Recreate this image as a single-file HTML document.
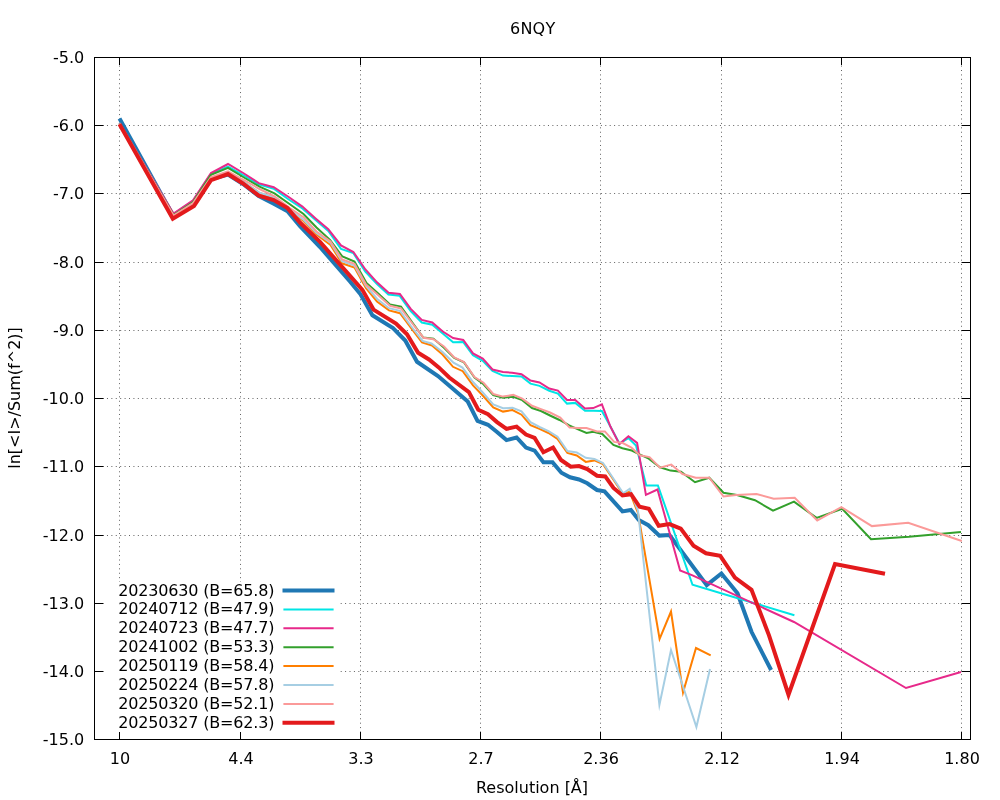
<!DOCTYPE html><html><head><meta charset="utf-8"><style>html,body{margin:0;padding:0;background:#fff;}svg{display:block}text{font-family:"DejaVu Sans","Liberation Sans",sans-serif;font-size:16px;fill:#000}</style></head><body>
<svg width="1000" height="800" viewBox="0 0 1000 800">
<rect width="1000" height="800" fill="#fff"/>
<g stroke="#000" stroke-width="1" stroke-dasharray="1 3.41" stroke-opacity="0.62"><line x1="94.5" stroke-dashoffset="0.77" y1="125.5" x2="970.5" y2="125.5"/><line x1="94.5" stroke-dashoffset="0.77" y1="193.5" x2="970.5" y2="193.5"/><line x1="94.5" stroke-dashoffset="0.77" y1="262.5" x2="970.5" y2="262.5"/><line x1="94.5" stroke-dashoffset="0.77" y1="330.5" x2="970.5" y2="330.5"/><line x1="94.5" stroke-dashoffset="0.77" y1="398.5" x2="970.5" y2="398.5"/><line x1="94.5" stroke-dashoffset="0.77" y1="466.5" x2="970.5" y2="466.5"/><line x1="94.5" stroke-dashoffset="0.77" y1="535.5" x2="970.5" y2="535.5"/><line x1="94.5" stroke-dashoffset="0.77" y1="603.5" x2="970.5" y2="603.5"/><line x1="94.5" stroke-dashoffset="0.77" y1="671.5" x2="970.5" y2="671.5"/><line x1="119.5" y1="57.5" stroke-dashoffset="0.73" x2="119.5" y2="739.5"/><line x1="240.5" y1="57.5" stroke-dashoffset="0.73" x2="240.5" y2="739.5"/><line x1="360.5" y1="57.5" stroke-dashoffset="0.73" x2="360.5" y2="739.5"/><line x1="480.5" y1="57.5" stroke-dashoffset="0.73" x2="480.5" y2="739.5"/><line x1="600.5" y1="57.5" stroke-dashoffset="0.73" x2="600.5" y2="739.5"/><line x1="721.5" y1="57.5" stroke-dashoffset="0.73" x2="721.5" y2="739.5"/><line x1="841.5" y1="57.5" stroke-dashoffset="0.73" x2="841.5" y2="739.5"/><line x1="961.5" y1="57.5" stroke-dashoffset="0.73" x2="961.5" y2="739.5"/></g>
<rect x="95" y="582" width="245" height="156" fill="#fff"/>
<path d="M94.5 125.5h9M970.5 125.5h-9M94.5 193.5h9M970.5 193.5h-9M94.5 262.5h9M970.5 262.5h-9M94.5 330.5h9M970.5 330.5h-9M94.5 398.5h9M970.5 398.5h-9M94.5 466.5h9M970.5 466.5h-9M94.5 535.5h9M970.5 535.5h-9M94.5 603.5h9M970.5 603.5h-9M94.5 671.5h9M970.5 671.5h-9M119.5 739.5v-7.5M119.5 57.5v7.5M240.5 739.5v-7.5M240.5 57.5v7.5M360.5 739.5v-7.5M360.5 57.5v7.5M480.5 739.5v-7.5M480.5 57.5v7.5M600.5 739.5v-7.5M600.5 57.5v7.5M721.5 739.5v-7.5M721.5 57.5v7.5M841.5 739.5v-7.5M841.5 57.5v7.5M961.5 739.5v-7.5M961.5 57.5v7.5" stroke="#000" stroke-width="1" fill="none"/>
<polyline points="119.50,118.50 173.50,216.50 193.50,205.00 211.00,179.00 228.00,174.50 243.00,184.00 258.75,196.00 273.75,203.75 287.50,211.25 300.00,226.25 320.00,247.00 350.00,281.50 360.50,294.30 372.40,315.25 393.00,328.00 405.25,340.50 417.00,361.75 438.00,376.00 448.50,385.00 467.75,401.50 477.50,421.00 488.00,424.75 497.00,432.00 506.50,440.10 516.60,437.50 526.00,447.60 534.60,450.60 543.40,462.20 552.50,462.20 561.40,472.75 570.00,477.25 579.00,479.50 587.25,483.25 597.00,490.00 604.50,491.40 613.50,501.30 622.50,511.40 630.90,510.00 638.75,520.00 648.30,525.20 659.40,535.60 669.50,535.00 706.75,585.10 721.40,573.50 737.50,593.30 751.50,631.80 771.10,670.00" fill="none" stroke="#1f78b4" stroke-width="4" stroke-linejoin="miter" stroke-miterlimit="10" stroke-linecap="butt"/>
<polyline points="119.50,123.00 173.50,214.00 193.00,201.00 211.00,173.80 228.00,166.60 244.00,175.50 258.75,184.40 273.75,188.75 288.70,199.50 302.40,208.50 315.60,220.00 328.30,231.00 341.00,248.90 353.30,253.00 365.30,271.75 377.00,284.10 388.40,294.60 399.70,295.80 410.70,311.10 421.75,322.50 432.25,324.75 442.75,333.40 453.10,342.30 463.25,342.10 473.00,355.25 482.75,360.90 492.50,371.00 503.00,375.60 512.10,376.00 521.50,376.50 530.50,383.60 539.50,385.90 549.25,390.75 557.90,393.60 567.00,403.60 575.25,402.90 585.00,410.75 593.25,410.75 601.90,411.10 610.40,426.50 619.40,443.50 628.40,438.10 636.00,445.50 646.25,485.40 657.90,485.40 692.50,584.75 794.40,615.20" fill="none" stroke="#00e5e5" stroke-width="2" stroke-linejoin="miter" stroke-miterlimit="10" stroke-linecap="butt"/>
<polyline points="119.50,123.00 173.50,213.50 193.00,200.25 211.00,173.00 228.00,164.00 244.00,173.50 258.75,183.10 273.75,187.20 288.70,197.00 302.40,206.60 315.60,218.40 328.30,229.30 341.00,245.40 353.40,252.00 365.40,269.50 377.00,282.30 388.60,292.80 399.90,293.90 410.75,308.90 421.75,319.90 432.25,322.50 442.75,331.50 453.10,338.00 463.25,339.90 473.00,353.40 482.75,358.60 492.50,369.50 503.00,372.00 512.10,372.75 521.50,374.25 530.50,380.60 539.50,382.50 549.25,388.50 557.90,390.60 567.00,399.90 575.25,399.90 585.00,408.50 593.25,408.10 601.90,404.40 610.40,426.50 619.40,444.10 628.40,436.25 637.10,442.90 645.90,494.90 657.50,489.50 680.10,570.50 692.50,575.40 794.00,622.00 906.00,688.00 961.00,672.00" fill="none" stroke="#e7298a" stroke-width="2" stroke-linejoin="miter" stroke-miterlimit="10" stroke-linecap="butt"/>
<polyline points="119.50,123.50 173.50,215.00 193.00,202.00 211.00,174.80 228.00,167.90 244.00,177.50 259.50,186.60 274.50,193.40 289.50,204.00 303.50,214.00 316.50,227.50 330.00,239.80 342.40,256.50 354.50,261.60 366.50,283.00 378.20,293.50 390.00,304.40 401.00,306.60 412.00,322.00 423.25,337.50 433.40,338.60 444.00,347.80 454.25,357.90 464.00,362.40 474.50,377.50 483.50,384.25 493.25,395.10 503.00,397.75 513.25,396.75 522.25,400.10 532.00,408.00 541.00,411.00 550.00,415.50 559.50,420.00 569.25,425.40 577.50,429.10 586.50,432.90 593.25,431.75 602.25,434.00 613.40,444.90 622.40,448.25 631.75,450.50 639.00,454.10 648.75,458.60 660.00,467.25 670.50,470.60 681.00,471.75 695.00,482.25 709.25,477.75 723.50,492.75 737.00,495.00 755.00,500.20 773.00,510.70 794.00,501.70 816.60,517.90 842.20,508.80 871.00,539.30 909.00,536.80 961.00,531.90" fill="none" stroke="#33a02c" stroke-width="2" stroke-linejoin="miter" stroke-miterlimit="10" stroke-linecap="butt"/>
<polyline points="119.50,124.00 173.50,216.00 193.00,204.00 211.00,178.00 228.00,172.50 244.00,182.00 259.50,193.00 274.50,198.00 289.50,210.50 303.50,221.00 316.50,234.50 330.50,245.00 342.00,263.30 354.50,267.60 366.00,288.30 377.00,301.50 389.00,310.40 400.00,313.20 411.00,328.00 422.00,342.40 432.00,345.50 442.50,354.50 453.00,366.80 462.75,371.20 473.00,385.40 482.75,395.50 493.25,407.50 503.00,411.60 512.50,410.00 521.50,414.70 530.50,425.10 539.50,428.90 548.50,433.00 557.50,439.00 567.40,452.90 576.75,455.50 585.75,461.90 594.40,460.40 603.00,464.10 613.00,479.00 623.00,494.00 629.60,491.75 638.00,513.00 659.60,639.00 671.00,611.50 683.00,692.50 696.00,648.00 710.70,655.40" fill="none" stroke="#ff7f00" stroke-width="2" stroke-linejoin="miter" stroke-miterlimit="10" stroke-linecap="butt"/>
<polyline points="119.50,124.00 173.50,216.00 193.00,204.00 211.00,178.00 228.00,172.50 244.00,182.00 259.50,192.80 274.50,197.50 289.50,209.50 303.50,219.80 316.50,233.00 330.50,242.70 342.00,261.10 354.50,265.60 366.00,286.00 377.00,298.70 389.00,308.20 400.00,310.90 411.00,326.00 422.50,340.90 431.50,343.50 442.50,352.00 453.50,362.75 462.50,367.60 473.00,382.00 482.75,392.50 493.25,404.50 503.00,408.30 512.50,407.75 521.50,411.30 530.50,422.10 539.50,427.00 548.50,431.10 557.50,436.75 567.40,451.00 576.75,452.50 585.75,457.75 594.40,458.90 603.00,463.00 613.00,478.00 623.25,493.25 629.70,488.75 638.00,511.00 659.40,705.00 671.00,650.00 696.40,727.00 710.00,669.00" fill="none" stroke="#a6cee3" stroke-width="2" stroke-linejoin="miter" stroke-miterlimit="10" stroke-linecap="butt"/>
<polyline points="119.50,123.50 173.50,215.50 193.00,203.00 211.00,177.20 228.00,171.40 244.00,180.00 259.50,189.00 274.50,196.25 289.50,207.80 303.50,217.20 316.50,231.50 330.50,241.40 342.00,259.40 354.50,263.80 366.00,284.50 378.00,295.00 390.00,305.80 401.00,308.50 412.00,323.00 423.50,337.70 433.40,339.20 444.00,346.50 454.25,357.50 464.00,362.00 474.50,377.00 483.50,382.75 493.25,394.00 503.00,396.60 513.25,394.90 522.25,398.60 532.00,405.75 541.00,409.10 550.00,412.50 560.25,417.50 569.60,427.60 578.00,428.00 586.50,428.00 597.00,431.40 604.90,431.40 614.10,441.90 622.75,443.00 631.40,447.50 639.75,455.25 649.50,457.10 660.00,467.60 671.25,464.60 682.50,474.00 695.75,477.75 709.25,477.75 723.50,496.50 736.20,495.00 756.50,494.00 773.70,498.70 794.70,497.70 817.20,520.50 841.35,507.10 871.90,526.10 908.20,522.80 961.80,541.00" fill="none" stroke="#fb9a99" stroke-width="2" stroke-linejoin="miter" stroke-miterlimit="10" stroke-linecap="butt"/>
<polyline points="119.50,124.20 172.80,218.75 194.00,206.00 211.00,180.20 228.00,174.00 243.00,183.50 258.75,195.60 273.75,200.00 287.50,208.10 300.00,222.50 320.00,241.90 350.00,275.90 362.40,289.80 373.50,309.60 396.00,323.50 407.00,334.30 418.10,352.75 429.00,359.50 438.75,367.40 449.25,377.50 468.90,392.10 478.25,409.75 488.00,414.25 497.00,422.10 506.50,428.90 516.60,426.60 526.00,434.50 534.60,437.90 543.40,452.20 553.10,447.50 561.00,460.00 570.75,466.75 579.00,466.00 587.25,469.00 597.00,475.75 605.25,476.40 613.50,488.00 622.50,495.50 631.00,494.20 639.60,506.80 648.80,508.70 658.70,525.80 669.50,524.10 680.75,528.60 693.50,545.80 706.00,553.25 720.25,555.90 734.90,577.50 751.50,589.80 769.00,635.30 788.50,694.70 835.00,564.00 885.00,573.80" fill="none" stroke="#e31a1c" stroke-width="4" stroke-linejoin="miter" stroke-miterlimit="10" stroke-linecap="butt"/>
<rect x="94.5" y="57.5" width="876" height="682" fill="none" stroke="#000" stroke-width="1"/>
<text x="84.2" y="63" text-anchor="end">-5.0</text>
<text x="84.2" y="131" text-anchor="end">-6.0</text>
<text x="84.2" y="199" text-anchor="end">-7.0</text>
<text x="84.2" y="268" text-anchor="end">-8.0</text>
<text x="84.2" y="336" text-anchor="end">-9.0</text>
<text x="84.2" y="404" text-anchor="end">-10.0</text>
<text x="84.2" y="472" text-anchor="end">-11.0</text>
<text x="84.2" y="541" text-anchor="end">-12.0</text>
<text x="84.2" y="609" text-anchor="end">-13.0</text>
<text x="84.2" y="677" text-anchor="end">-14.0</text>
<text x="84.2" y="745" text-anchor="end">-15.0</text>
<text x="120" y="764" text-anchor="middle">10</text>
<text x="241" y="764" text-anchor="middle">4.4</text>
<text x="361" y="764" text-anchor="middle">3.3</text>
<text x="481" y="764" text-anchor="middle">2.7</text>
<text x="601" y="764" text-anchor="middle">2.36</text>
<text x="722" y="764" text-anchor="middle">2.12</text>
<text x="842" y="764" text-anchor="middle">1.94</text>
<text x="962" y="764" text-anchor="middle">1.80</text>
<text x="532.6" y="34" text-anchor="middle" textLength="45.3" lengthAdjust="spacing">6NQY</text>
<text x="532" y="793" text-anchor="middle">Resolution [Å]</text>
<text transform="translate(20,398) rotate(-90)" text-anchor="middle">ln[&lt;I&gt;/Sum(f^2)]</text>
<text x="118.3" y="595.60" textLength="156.1" lengthAdjust="spacing">20230630 (B=65.8)</text>
<line x1="282.5" y1="590.60" x2="334.5" y2="590.60" stroke="#1f78b4" stroke-width="4"/>
<text x="118.3" y="614.48" textLength="156.1" lengthAdjust="spacing">20240712 (B=47.9)</text>
<line x1="283.4" y1="609.48" x2="333.6" y2="609.48" stroke="#00e5e5" stroke-width="2"/>
<text x="118.3" y="633.36" textLength="156.1" lengthAdjust="spacing">20240723 (B=47.7)</text>
<line x1="283.4" y1="628.36" x2="333.6" y2="628.36" stroke="#e7298a" stroke-width="2"/>
<text x="118.3" y="652.24" textLength="156.1" lengthAdjust="spacing">20241002 (B=53.3)</text>
<line x1="283.4" y1="647.24" x2="333.6" y2="647.24" stroke="#33a02c" stroke-width="2"/>
<text x="118.3" y="671.12" textLength="156.1" lengthAdjust="spacing">20250119 (B=58.4)</text>
<line x1="283.4" y1="666.12" x2="333.6" y2="666.12" stroke="#ff7f00" stroke-width="2"/>
<text x="118.3" y="690.00" textLength="156.1" lengthAdjust="spacing">20250224 (B=57.8)</text>
<line x1="283.4" y1="685.00" x2="333.6" y2="685.00" stroke="#a6cee3" stroke-width="2"/>
<text x="118.3" y="708.88" textLength="156.1" lengthAdjust="spacing">20250320 (B=52.1)</text>
<line x1="283.4" y1="703.88" x2="333.6" y2="703.88" stroke="#fb9a99" stroke-width="2"/>
<text x="118.3" y="727.76" textLength="156.1" lengthAdjust="spacing">20250327 (B=62.3)</text>
<line x1="282.5" y1="722.76" x2="334.5" y2="722.76" stroke="#e31a1c" stroke-width="4"/>
</svg></body></html>
